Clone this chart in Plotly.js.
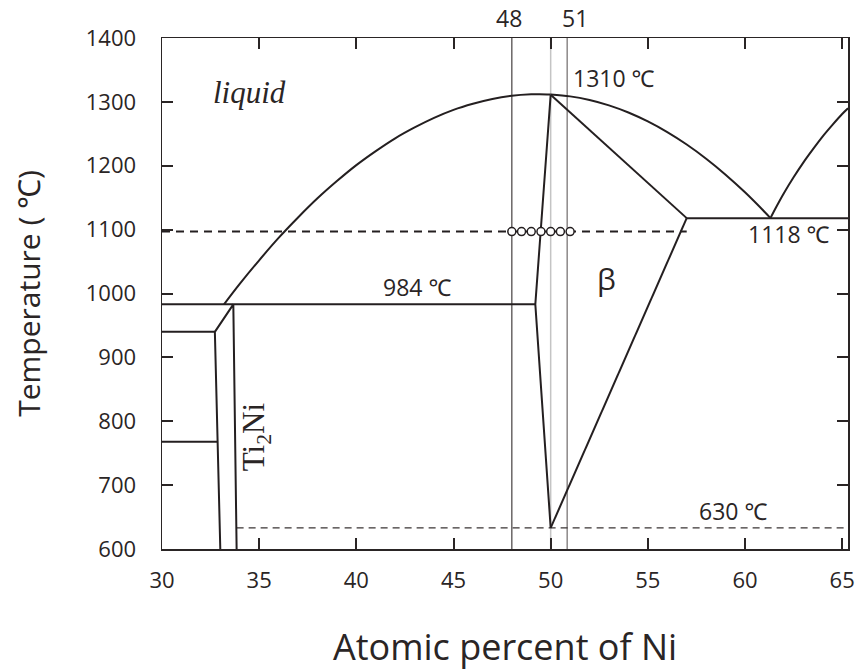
<!DOCTYPE html>
<html>
<head>
<meta charset="utf-8">
<script src="https://cdn.plot.ly/plotly-3.0.1.min.js"></script>
<style>body{margin:0;background:#fff;} #chart{width:860px;height:672px;}</style>
</head>
<body>
<div id="chart"></div>
<script>
// ---- data (x: at.% Ni, y: temperature in °C) ----
const xTicks = [30, 35, 40, 45, 50, 55, 60, 65];
const yTicks = [600, 700, 800, 900, 1000, 1100, 1200, 1300, 1400];

// liquidus, Ti-rich side of NiTi
const liqLeftX = [33.19, 34, 35, 36, 37, 38, 39, 40, 41, 42, 43, 44, 45, 46, 47, 48, 49, 49.43, 50];
const liqLeftT = [983, 1015, 1052, 1087, 1119, 1149, 1176, 1201, 1223, 1243, 1260, 1275, 1287.5, 1297, 1304.5, 1309.5, 1311.8, 1312, 1311.5];
// liquidus, Ni-rich side of NiTi
const liqRightX = [50, 51, 52, 53, 54, 55, 56, 57, 58, 59, 60, 61, 61.31];
const liqRightT = [1311.5, 1308.6, 1302.9, 1294.5, 1283.3, 1269.3, 1252.6, 1233.2, 1211, 1186, 1158.4, 1128, 1118];
// liquidus rising towards Ni3Ti
const liqNiX = [61.31, 61.6, 62, 62.5, 63, 63.5, 64, 64.5, 65, 65.3];
const liqNiT = [1118, 1135, 1157, 1182, 1205, 1226, 1246, 1264, 1281, 1290];
// beta (NiTi) phase field
const betaSolidusX = [50, 57.0];
const betaSolidusT = [1311, 1118];
const betaRightX = [57.0, 50.0];
const betaRightT = [1118, 633];
const betaLeftX = [50, 49.21, 50.0];
const betaLeftT = [1311, 983, 633];
// invariant lines
const eutecticX = [57.0, 65.3];
const eutecticT = [1118, 1118];
const line984X = [30, 49.21];
const line984T = [983, 983];
// Ti2Ni compound and Ti-side lines
const ti2niX = [33.84, 33.67, 32.72, 33.0];
const ti2niT = [600, 983, 940, 600];
const line942X = [30, 32.72];
const line942T = [940, 940];
const line768X = [30, 32.86];
const line768T = [768, 768];
// dashed reference lines
const dash1100X = [30, 57.0];
const dash1100T = [1097, 1097];
const dash630X = [33.84, 65.3];
const dash630T = [633, 633];
// composition markers
const vLines = [48, 50, 50.85];
const vColors = ['#6a6666', '#c4c4c4', '#8c8888'];
const circX = [48, 48.5, 49, 49.5, 50, 50.5, 51];
const circT = [1097, 1097, 1097, 1097, 1097, 1097, 1097];

const ink = '#241f20';
const font = 'Open Sans, Noto Sans, DejaVu Sans, sans-serif';
const serif = 'Liberation Serif, DejaVu Serif, serif';

function line(x, y, opts) {
  return Object.assign({type: 'scatter', mode: 'lines', x: x, y: y, hoverinfo: 'skip', showlegend: false,
    line: {color: ink, width: 2}}, opts || {});
}

const traces = [];
vLines.forEach((v, i) => traces.push(line([v, v], [600, 1400], {line: {color: vColors[i], width: 1.5}})));
traces.push(line(dash1100X, dash1100T, {line: {color: ink, width: 2, dash: '8px,6px'}}));
traces.push(line(dash630X, dash630T, {line: {color: '#3a3535', width: 1.3, dash: '7px,5px'}}));
traces.push(line(liqLeftX, liqLeftT, {line: {color: ink, width: 2, shape: 'spline'}}));
traces.push(line(liqRightX, liqRightT, {line: {color: ink, width: 2, shape: 'spline'}}));
traces.push(line(liqNiX, liqNiT, {line: {color: ink, width: 2, shape: 'spline'}}));
traces.push(line(betaSolidusX, betaSolidusT));
traces.push(line(betaRightX, betaRightT));
traces.push(line(betaLeftX, betaLeftT));
traces.push(line(eutecticX, eutecticT));
traces.push(line(line984X, line984T));
traces.push(line(ti2niX, ti2niT));
traces.push(line(line942X, line942T));
traces.push(line(line768X, line768T));
traces.push({type: 'scatter', mode: 'markers', x: circX, y: circT, hoverinfo: 'skip', showlegend: false,
  marker: {symbol: 'circle', size: 8, color: '#ffffff', line: {color: ink, width: 1.5}}});

const axisCommon = {
  showgrid: false, zeroline: false, showline: true, linecolor: '#2a2525', linewidth: 1.5,
  mirror: 'ticks', ticks: 'inside', ticklen: 11, tickwidth: 2, tickcolor: '#2a2525',
  tickfont: {family: font, size: 22, color: '#2a2525'}
};

const ann = (x, y, text, extra) => Object.assign({x: x, y: y, xref: 'x', yref: 'y', text: text, showarrow: false,
  font: {family: font, size: 23, color: '#2a2525'}}, extra || {});

const layout = {
  width: 860, height: 672,
  margin: {l: 162, r: 12, t: 38, b: 123},
  paper_bgcolor: '#ffffff', plot_bgcolor: '#ffffff',
  xaxis: Object.assign({}, axisCommon, {
    range: [30, 65.3], tickvals: xTicks, ticklabelstandoff: 11,
    title: {text: 'Atomic percent of Ni', font: {family: font, size: 36, color: '#2a2525'}, standoff: 42}
  }),
  yaxis: Object.assign({}, axisCommon, {
    range: [600, 1400], tickvals: yTicks, ticklabelstandoff: 20,
    title: {text: 'Temperature ( ℃)', font: {family: font, size: 30, color: '#2a2525'}, standoff: 36}
  }),
  annotations: [
    ann(47.88, 1, '48', {yref: 'paper', yanchor: 'bottom', yshift: 2}),
    ann(51.27, 1, '51', {yref: 'paper', yanchor: 'bottom', yshift: 2}),
    ann(53.24, 1337, '1310 ℃'),
    ann(43.11, 1010, '984 ℃'),
    ann(52.88, 1024, 'β', {font: {family: font, size: 30, color: '#2a2525'}}),
    ann(62.24, 1093, '1118 ℃'),
    ann(59.36, 659, '630 ℃'),
    ann(34.52, 1314, '<i>liquid</i>', {font: {family: serif, size: 31, color: '#2a2525'}}),
    ann(34.82, 776, 'Ti<sub>2</sub>Ni', {textangle: -90, font: {family: serif, size: 31, color: '#2a2525'}})
  ]
};

Plotly.newPlot('chart', traces, layout, {staticPlot: true, displayModeBar: false});
</script>
</body>
</html>
